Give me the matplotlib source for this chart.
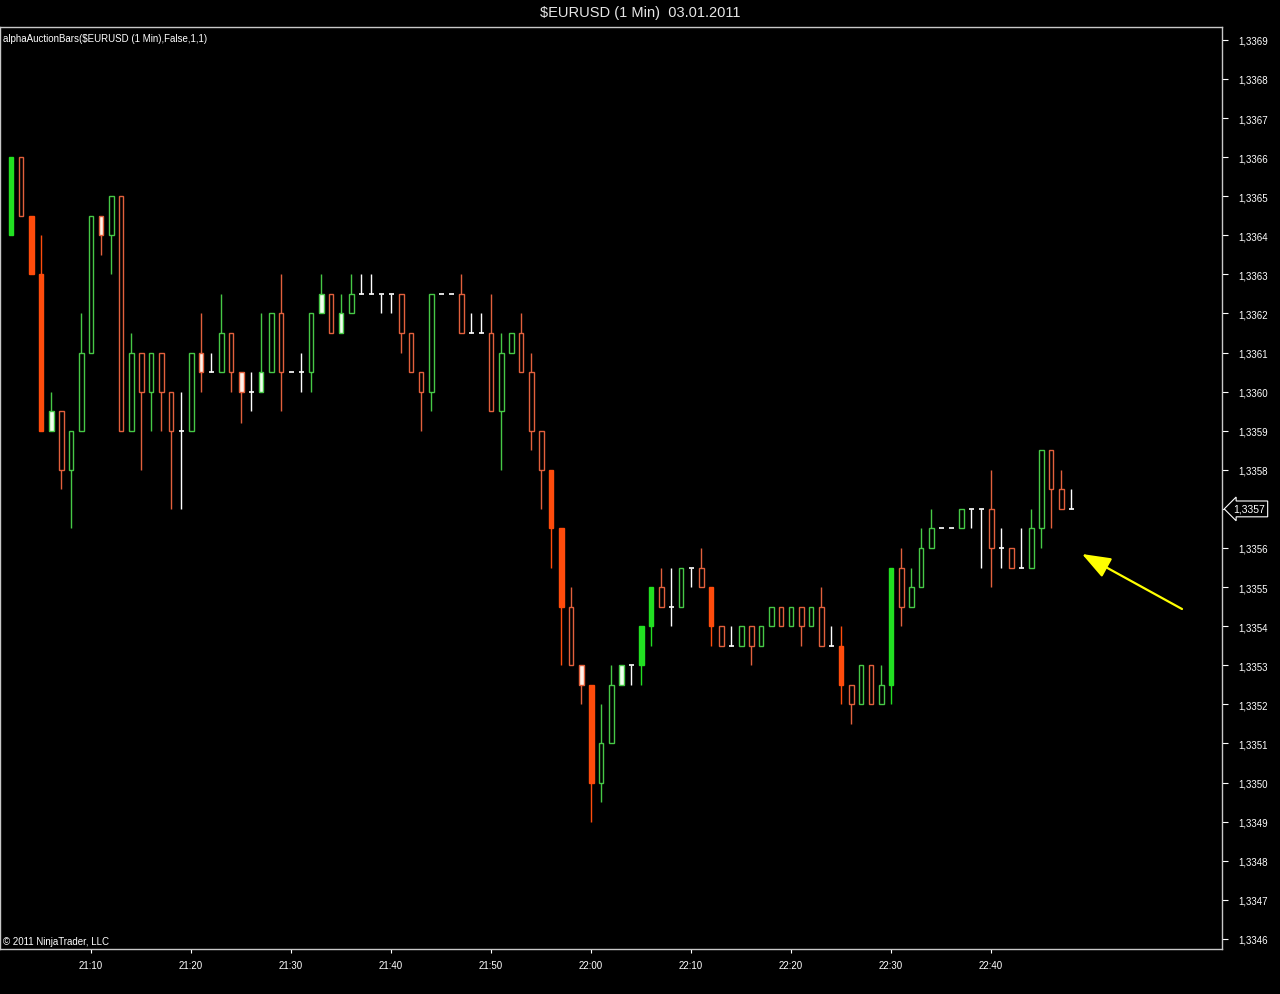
import matplotlib
matplotlib.use("Agg")
import matplotlib.pyplot as plt
import matplotlib.dates as mdates
from matplotlib.ticker import FixedLocator, FuncFormatter
import pandas as pd

# ---------------- data ----------------
start_time = "2011-01-03 21:02"
n_bars = 107

opens = [1.3364, 1.3366, 1.33645, 1.3363, 1.3359, 1.33595, 1.3358, 1.3359, 1.3361, 1.33645,
         1.3364, 1.3365, 1.3359, 1.3361, 1.3360, 1.3361, 1.3360, 1.3359, 1.3359, 1.3361,
         1.33605, 1.33605, 1.33615, 1.33605, 1.3360, 1.3360, 1.33605, 1.3362, 1.33605, 1.33605,
         1.33605, 1.3362, 1.33625, 1.33615, 1.3362, 1.33625, 1.33625, 1.33625, 1.33625, 1.33625,
         1.33615, 1.33605, 1.3360, 1.33625, 1.33625, 1.33625, 1.33615, 1.33615, 1.33615, 1.33595,
         1.3361, 1.33615, 1.33605, 1.3359, 1.3358, 1.33565, 1.33545, 1.3353, 1.33525, 1.3350,
         1.3351, 1.33525, 1.3353, 1.3353, 1.3354, 1.3355, 1.33545, 1.33545, 1.33555, 1.33555,
         1.3355, 1.3354, 1.33535, 1.33535, 1.3354, 1.33535, 1.3354, 1.33545, 1.3354, 1.33545,
         1.3354, 1.33545, 1.33535, 1.33535, 1.33525, 1.3352, 1.3353, 1.3352, 1.33525, 1.33555,
         1.33545, 1.3355, 1.3356, 1.33565, 1.33565, 1.33565, 1.3357, 1.3357, 1.3357, 1.3356,
         1.3356, 1.33555, 1.33555, 1.33565, 1.33585, 1.33575, 1.3357]
highs = [1.3366, 1.3366, 1.33645, 1.3364, 1.3360, 1.33595, 1.3359, 1.3362, 1.33645, 1.33645,
         1.3365, 1.3365, 1.33615, 1.3361, 1.3361, 1.3361, 1.3360, 1.3360, 1.3361, 1.3362,
         1.3361, 1.33625, 1.33615, 1.33605, 1.33605, 1.3362, 1.3362, 1.3363, 1.33605, 1.3361,
         1.3362, 1.3363, 1.33625, 1.33625, 1.3363, 1.3363, 1.3363, 1.33625, 1.33625, 1.33625,
         1.33615, 1.33605, 1.33625, 1.33625, 1.33625, 1.3363, 1.3362, 1.3362, 1.33625, 1.33615,
         1.33615, 1.3362, 1.3361, 1.3359, 1.3358, 1.33565, 1.3355, 1.3353, 1.33525, 1.3352,
         1.3353, 1.3353, 1.3353, 1.3354, 1.3355, 1.33555, 1.33555, 1.33555, 1.33555, 1.3356,
         1.3355, 1.3354, 1.3354, 1.3354, 1.3354, 1.3354, 1.33545, 1.33545, 1.33545, 1.33545,
         1.33545, 1.3355, 1.3354, 1.3354, 1.33525, 1.3353, 1.3353, 1.3353, 1.33555, 1.3356,
         1.33555, 1.33565, 1.3357, 1.33565, 1.33565, 1.3357, 1.3357, 1.3357, 1.3358, 1.33565,
         1.3356, 1.33565, 1.3357, 1.33585, 1.33585, 1.3358, 1.33575]
lows = [1.3364, 1.33645, 1.3363, 1.3359, 1.3359, 1.33575, 1.33565, 1.3359, 1.3361, 1.33635,
        1.3363, 1.3359, 1.3359, 1.3358, 1.3359, 1.3359, 1.3357, 1.3357, 1.3359, 1.3360,
        1.33605, 1.33605, 1.3360, 1.33592, 1.33595, 1.3360, 1.33605, 1.33595, 1.33605, 1.3360,
        1.3360, 1.3362, 1.33615, 1.33615, 1.3362, 1.33625, 1.33625, 1.3362, 1.3362, 1.3361,
        1.33605, 1.3359, 1.33595, 1.33625, 1.33625, 1.33615, 1.33615, 1.33615, 1.33595, 1.3358,
        1.3361, 1.33605, 1.33585, 1.3357, 1.33555, 1.3353, 1.3353, 1.3352, 1.3349, 1.33495,
        1.3351, 1.33525, 1.33525, 1.33525, 1.33535, 1.33545, 1.3354, 1.33545, 1.3355, 1.3355,
        1.33535, 1.33535, 1.33535, 1.33535, 1.3353, 1.33535, 1.3354, 1.3354, 1.3354, 1.33535,
        1.3354, 1.33535, 1.33535, 1.3352, 1.33515, 1.3352, 1.3352, 1.3352, 1.3352, 1.3354,
        1.33545, 1.3355, 1.3356, 1.33565, 1.33565, 1.33565, 1.33565, 1.33555, 1.3355, 1.33555,
        1.33555, 1.33555, 1.33555, 1.3356, 1.33565, 1.3357, 1.3357]
closes = [1.3366, 1.33645, 1.3363, 1.3359, 1.33595, 1.3358, 1.3359, 1.3361, 1.33645, 1.3364,
          1.3365, 1.3359, 1.3361, 1.3360, 1.3361, 1.3360, 1.3359, 1.3359, 1.3361, 1.33605,
          1.33605, 1.33615, 1.33605, 1.3360, 1.3360, 1.33605, 1.3362, 1.33605, 1.33605, 1.33605,
          1.3362, 1.33625, 1.33615, 1.3362, 1.33625, 1.33625, 1.33625, 1.33625, 1.33625, 1.33615,
          1.33605, 1.3360, 1.33625, 1.33625, 1.33625, 1.33615, 1.33615, 1.33615, 1.33595, 1.3361,
          1.33615, 1.33605, 1.3359, 1.3358, 1.33565, 1.33545, 1.3353, 1.33525, 1.3350, 1.3351,
          1.33525, 1.3353, 1.3353, 1.3354, 1.3355, 1.33545, 1.33545, 1.33555, 1.33555, 1.3355,
          1.3354, 1.33535, 1.33535, 1.3354, 1.33535, 1.3354, 1.33545, 1.3354, 1.33545, 1.3354,
          1.33545, 1.33535, 1.33535, 1.33525, 1.3352, 1.3353, 1.3352, 1.33525, 1.33555, 1.33545,
          1.3355, 1.3356, 1.33565, 1.33565, 1.33565, 1.3357, 1.3357, 1.3357, 1.3356, 1.3356,
          1.33555, 1.33555, 1.33565, 1.33585, 1.33575, 1.3357, 1.3357]
# bar state of the alphaAuctionBars indicator:
# G strong up, R strong down, g up, r down, wg/wr auction bar (up/down), d doji
states = ["G", "r", "R", "R", "wg", "r", "g", "g", "g", "wr",
          "g", "r", "g", "r", "g", "r", "r", "d", "g", "wr",
          "d", "g", "r", "wr", "d", "wg", "g", "r", "d", "d",
          "g", "wg", "r", "wg", "g", "d", "d", "d", "d", "r",
          "r", "r", "g", "d", "d", "r", "d", "d", "r", "g",
          "g", "r", "r", "r", "R", "R", "r", "wr", "R", "g",
          "g", "wg", "d", "G", "G", "r", "d", "g", "d", "r",
          "R", "r", "d", "g", "r", "g", "g", "r", "g", "r",
          "g", "r", "d", "R", "r", "g", "r", "g", "G", "r",
          "g", "g", "g", "d", "d", "g", "d", "d", "r", "d",
          "r", "d", "g", "g", "r", "r", "d"]

price_ticks = [1.3346, 1.3347, 1.3348, 1.3349, 1.3350, 1.3351, 1.3352, 1.3353,
               1.3354, 1.3355, 1.3356, 1.3357, 1.3358, 1.3359, 1.3360, 1.3361,
               1.3362, 1.3363, 1.3364, 1.3365, 1.3366, 1.3367, 1.3368, 1.3369]

title_text = "$EURUSD (1 Min)  03.01.2011"
indicator_text = "alphaAuctionBars($EURUSD (1 Min),False,1,1)"
copyright_text = "© 2011 NinjaTrader, LLC"

# ---------------- style ----------------
BG = "black"
GREEN_SOLID = "#22e022"
RED_SOLID = "#ff4c0c"
GREEN_EDGE = "#46c846"
RED_EDGE = "#e2603c"
WHITE = "#ffffff"
style = {
    "G":  dict(fc=GREEN_SOLID, ec=GREEN_SOLID, wick=GREEN_SOLID),
    "R":  dict(fc=RED_SOLID, ec=RED_SOLID, wick=RED_SOLID),
    "g":  dict(fc=BG, ec=GREEN_EDGE, wick=GREEN_EDGE),
    "r":  dict(fc=BG, ec=RED_EDGE, wick=RED_EDGE),
    "wg": dict(fc="#f2fff0", ec=GREEN_EDGE, wick=GREEN_EDGE),
    "wr": dict(fc="#fff2ea", ec=RED_EDGE, wick=RED_EDGE),
}

plt.rcParams["font.family"] = ["Liberation Sans", "DejaVu Sans"]

W, H = 1280, 995
fig = plt.figure(figsize=(W / 100, H / 100), dpi=100, facecolor=BG)
ax = fig.add_axes([0, 45 / H, 1222 / W, (H - 28 - 45) / H], facecolor=BG)

times = pd.date_range(start_time, periods=n_bars, freq="min")
x = mdates.date2num(times.to_pydatetime())
minute = 1.0 / 1440.0
bw = 0.5 * minute

for xi, o, h, l, c, s in zip(x, opens, highs, lows, closes, states):
    if s == "d":
        if h > l:
            ax.vlines(xi, l, h, color=WHITE, lw=1.0, zorder=2)
        ax.hlines(o, xi - bw / 2, xi + bw / 2, color=WHITE, lw=1.2, zorder=3)
        continue
    st = style[s]
    ax.vlines(xi, l, h, color=st["wick"], lw=1.0, zorder=2)
    ax.bar(xi, abs(c - o), bottom=min(o, c), width=bw, facecolor=st["fc"],
           edgecolor=st["ec"], linewidth=1.0, zorder=3)

ax.set_xlim(x[0] - 1.1 * minute, x[-1] + 15.1 * minute)
ax.set_ylim(1.334574, 1.336933)

# axes frame
for sp in ax.spines.values():
    sp.set_color("#c8c8c8")
    sp.set_linewidth(1.0)

# y axis on right
ax.yaxis.tick_right()
ax.yaxis.set_major_locator(FixedLocator(price_ticks))
last = closes[-1]
ax.yaxis.set_major_formatter(FuncFormatter(
    lambda v, p: "" if abs(v - last) < 1e-7 else f"{v:.4f}".replace(".", ",")))
ax.tick_params(axis="y", colors=WHITE, labelsize=7, length=4, width=0.8, pad=8)

# x axis: labels only at the 10-minute marks inside the data range
tick_x = [xi for xi, t in zip(x, times) if t.minute % 10 == 0]
ax.xaxis.set_major_locator(FixedLocator(tick_x))
ax.xaxis.set_major_formatter(mdates.DateFormatter("%H:%M"))
ax.tick_params(axis="x", colors=WHITE, labelsize=7, length=3, width=0.8, pad=5)

# last price marker
ax.text(1.009, last, f"{last:.4f}".replace(".", ","), transform=ax.get_yaxis_transform(),
        ha="left", va="center", color=WHITE, fontsize=7.5, zorder=10, clip_on=False,
        bbox=dict(boxstyle="larrow,pad=0.28", fc=BG, ec=WHITE, lw=0.8))

# texts
fig.text(0.5, 1 - 13 / H, title_text, ha="center", va="center", color="#e6e6e6",
         fontsize=10.5, parse_math=False)
fig.text(3 / W, 1 - 39 / H, indicator_text, ha="left", va="center", color=WHITE,
         fontsize=7, parse_math=False)
fig.text(3 / W, 1 - 942 / H, copyright_text, ha="left", va="center", color=WHITE,
         fontsize=7, parse_math=False)

# yellow annotation arrow
ax.annotate("", xy=(1082, H - 555), xytext=(1182, H - 610),
            xycoords="figure pixels", textcoords="figure pixels",
            arrowprops=dict(arrowstyle="-|>,head_length=0.8,head_width=0.3",
                            color="#ffff00", lw=1.6, mutation_scale=22,
                            shrinkA=0, shrinkB=0))

fig.savefig("out.png", dpi=100, facecolor=BG)
